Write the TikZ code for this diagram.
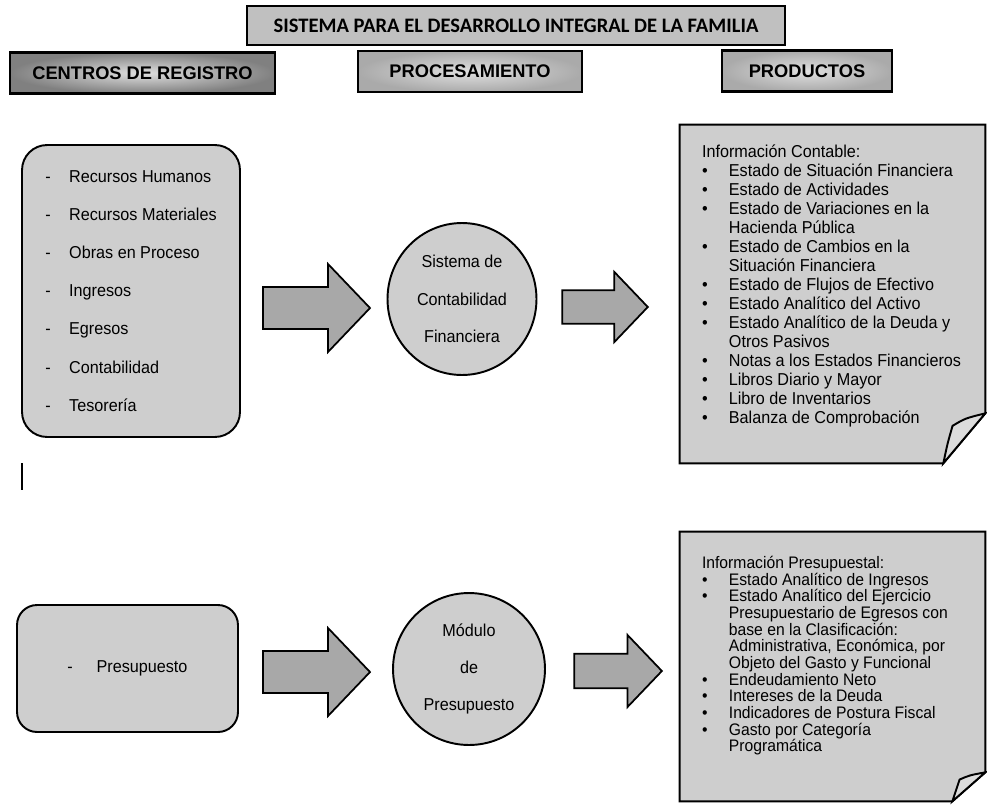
\documentclass[tikz,border=0pt]{standalone}
\usepackage{fontspec}
\setmainfont{Liberation Sans}
\newfontfamily\bodyfont[FakeStretch=0.94]{Liberation Sans}
\newfontfamily\titlefont{Carlito}
\usetikzlibrary{calc}
\usetikzlibrary{shapes.geometric}
\usetikzlibrary{shadows}

\definecolor{boxgray}{RGB}{206,206,206}
\definecolor{flapgray}{RGB}{220,220,220}
\definecolor{arrowgray}{RGB}{168,168,168}
\definecolor{titlegray}{RGB}{192,192,192}
\definecolor{headlight}{RGB}{224,224,224}
\definecolor{headdark}{RGB}{170,170,170}
\definecolor{centrosdark}{RGB}{128,128,128}

\newcommand{\regdash}{\makebox[13.6pt][l]{-}}
\newcommand{\prodbullet}{\makebox[15.3pt][l]{\textbullet}}
\newcommand{\prodindent}{\hspace*{15.3pt}}
\newcommand{\tightlines}{\lineskiplimit-10pt\relax}

% outline of a product sheet with its bent corner (name, fold width, fold height in px)
\newcommand{\foldedbox}[3]{%
  \draw[boxline, fill=boxgray] (#1.north west) -- (#1.north east)
    -- ($(#1.south east)+(0,-#3)$) -- ($(#1.south east)+(-#2,0)$)
    -- (#1.south west) -- cycle;
  \draw[boxline, fill=flapgray] ($(#1.south east)+(-#2,0)$)
    .. controls +(0.1*#2,-0.4*#3) .. ($(#1.south east)+(-0.78*#2,-0.75*#3)$)
    .. controls +(0.3*#2,-0.15*#3) .. ($(#1.south east)+(0,-#3)$) -- cycle;
}

\tikzset{%
  boxline/.style={draw=black, line width=1.1pt},
  titlebox/.style={boxline, line width=1.4pt, fill=titlegray, minimum width=10.76cm,
    minimum height=0.78cm, inner sep=0pt, font=\titlefont\bfseries\fontsize{11.7}{14}\selectfont,
    drop shadow={shadow xshift=0.6pt, shadow yshift=-0.8pt, opacity=0.6}},
  headbox/.style={boxline, line width=1.4pt, inner color=headlight, outer color=headdark,
    minimum height=0.82cm, inner sep=0pt, font=\bfseries\fontsize{10.4}{12}\selectfont,
    drop shadow={shadow xshift=0.6pt, shadow yshift=-0.8pt, opacity=0.6}},
  regbox/.style={boxline, fill=boxgray, rounded corners=0.5cm, align=left, inner sep=0pt,
    font=\bodyfont\fontsize{9.8}{21.7}\selectfont},
  procircle/.style={boxline, ellipse, fill=boxgray, align=center, inner sep=0pt,
    font=\bodyfont\fontsize{9.8}{21.3}\selectfont},
  prodbox/.style={rectangle, inner sep=0pt},
  prodtext/.style={anchor=north west, align=left, inner sep=0pt,
    font=\bodyfont\fontsize{9.8}{10.8}\selectfont\tightlines},
  blockarrow/.pic={%
    \draw[boxline, line width=1pt, fill=arrowgray] (-53.5,-21) -- (11.5,-21) -- (11.5,-44)
      -- (53.5,0) -- (11.5,44) -- (11.5,21) -- (-53.5,21) -- cycle;
  }%
}

\begin{document}
\begin{tikzpicture}[x=0.02cm, y=-0.02cm]

  % frame of the scan, in pixels
  \useasboundingbox (0,0) rectangle (987,805);

  % set up basic coordinates
  \coordinate (A1) at (316.5,308);
  \coordinate (A2) at (605,307);
  \coordinate (A3) at (316.5,672);
  \coordinate (A4) at (618,671);

  % headings
  \node[titlebox] (sistema) at (516,25.5) {SISTEMA PARA EL DESARROLLO INTEGRAL DE LA FAMILIA};
  \node[headbox, outer color=centrosdark, minimum width=5.3cm] (centros) at (142.5,73) {CENTROS DE REGISTRO};
  \node[headbox, minimum width=4.48cm] (procesamiento) at (470,71.5) {PROCESAMIENTO};
  \node[headbox, minimum width=3.4cm] (productos) at (807,71) {PRODUCTOS};

  % upper row: accounting
  \node[regbox, minimum width=4.36cm, minimum height=5.84cm] (registro) at (131,291)
    {\regdash Recursos Humanos\\ \regdash Recursos Materiales\\ \regdash Obras en Proceso\\
     \regdash Ingresos\\ \regdash Egresos\\ \regdash Contabilidad\\ \regdash Tesorería};
  \node[procircle, minimum width=2.98cm, minimum height=3.04cm] (contabilidad) at (462,299)
    {Sistema de\\Contabilidad\\Financiera};
  \node[prodbox, minimum width=6.1cm, minimum height=6.76cm] (contable) at (832.5,294) {};
  \foldedbox{contable}{42}{50}
  \node[prodtext] (contabletxt) at ($(contable.north west)+(22,20)$)
    {Información Contable:\\
     \prodbullet Estado de Situación Financiera\\
     \prodbullet Estado de Actividades\\
     \prodbullet Estado de Variaciones en la\\
     \prodindent Hacienda Pública\\
     \prodbullet Estado de Cambios en la\\
     \prodindent Situación Financiera\\
     \prodbullet Estado de Flujos de Efectivo\\
     \prodbullet Estado Analítico del Activo\\
     \prodbullet Estado Analítico de la Deuda y\\
     \prodindent Otros Pasivos\\
     \prodbullet Notas a los Estados Financieros\\
     \prodbullet Libros Diario y Mayor\\
     \prodbullet Libro de Inventarios\\
     \prodbullet Balanza de Comprobación};
  \pic at (A1) {blockarrow};
  \pic[scale=0.8] at (A2) {blockarrow};

  % lower row: budget
  \node[regbox, rounded corners=0.4cm, minimum width=4.42cm, minimum height=2.54cm] (presupuesto) at (127.5,668.5)
    {\regdash\hspace{3pt}Presupuesto};
  \node[procircle, minimum width=3.04cm, minimum height=3.04cm] (modulo) at (469,669)
    {Módulo\\de\\Presupuesto};
  \node[prodbox, minimum width=6.1cm, minimum height=5.38cm] (presupuestal) at (832.5,666.5) {};
  \foldedbox{presupuestal}{33}{29}
  \node[prodtext, font=\bodyfont\fontsize{9.5}{9.5}\selectfont\tightlines] (presupuestaltxt)
    at ($(presupuestal.north west)+(22,24)$)
    {Información Presupuestal:\\
     \prodbullet Estado Analítico de Ingresos\\
     \prodbullet Estado Analítico del Ejercicio\\
     \prodindent Presupuestario de Egresos con\\
     \prodindent base en la Clasificación:\\
     \prodindent Administrativa, Económica, por\\
     \prodindent Objeto del Gasto y Funcional\\
     \prodbullet Endeudamiento Neto\\
     \prodbullet Intereses de la Deuda\\
     \prodbullet Indicadores de Postura Fiscal\\
     \prodbullet Gasto por Categoría\\
     \prodindent Programática};
  \pic at (A3) {blockarrow};
  \pic[scale=0.82] at (A4) {blockarrow};

  % stray mark left by the scan
  \draw[line width=0.6pt] (22,463) -- (22,490);

\end{tikzpicture}
\end{document}
